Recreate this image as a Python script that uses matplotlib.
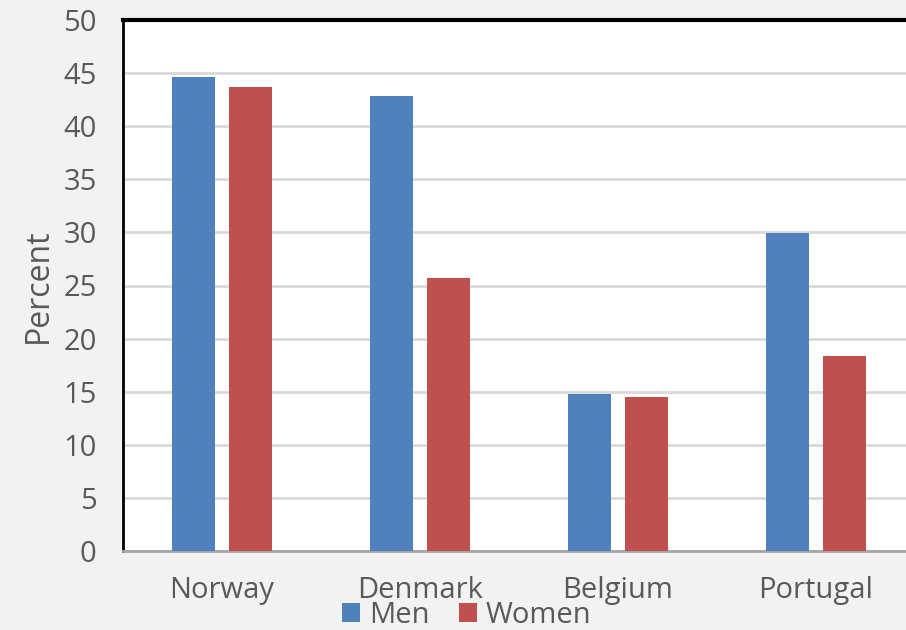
import matplotlib
matplotlib.use('Agg')
import matplotlib.pyplot as plt
import numpy as np

countries = ['Norway', 'Denmark', 'Belgium', 'Portugal']
men = [44.6, 42.8, 14.8, 29.9]
women = [43.7, 25.7, 14.5, 18.4]

plt.rcParams['font.family'] = ['Open Sans', 'DejaVu Sans']
txt = '#595959'

fig = plt.figure(figsize=(9.06, 6.3), dpi=100, facecolor='#f2f2f2')
ax = fig.add_axes([123/906, 1 - 551/630, 1 - 123/906 + 9/906, (551-20)/630])
ax.set_facecolor('white')

x = np.arange(len(countries))
w = 0.222
ax.bar(x - 0.144, men, w, color='#4f81bd', label='Men', zorder=3)
ax.bar(x + 0.144, women, w, color='#c0504d', label='Women', zorder=3)

ax.set_xlim(-0.5, 3.5)
ax.set_ylim(0, 50)
ax.set_yticks(range(0, 51, 5))
ax.yaxis.grid(True, color='#d9d9d9', linewidth=2, zorder=0)
ax.set_xticks(x)
ax.set_xticklabels(countries)
ax.tick_params(axis='both', length=0, labelsize=21, labelcolor=txt)
ax.tick_params(axis='x', pad=18)
ax.tick_params(axis='y', pad=19)
ax.set_ylabel('Percent', fontsize=23, color=txt, labelpad=6)

ax.spines['left'].set_color('black')
ax.spines['left'].set_linewidth(2)
ax.spines['top'].set_color('black')
ax.spines['top'].set_linewidth(3)
ax.spines['bottom'].set_color('#a6a6a6')
ax.spines['bottom'].set_linewidth(2)
ax.spines['right'].set_visible(False)

leg = fig.legend(loc='lower center', bbox_to_anchor=(0.515, -0.042), ncol=2, frameon=False,
                 fontsize=21, handlelength=0.62, handleheight=0.62, handletextpad=0.3,
                 columnspacing=1.0)
for t in leg.get_texts():
    t.set_color(txt)

fig.savefig('out.png', dpi=100, facecolor=fig.get_facecolor())
